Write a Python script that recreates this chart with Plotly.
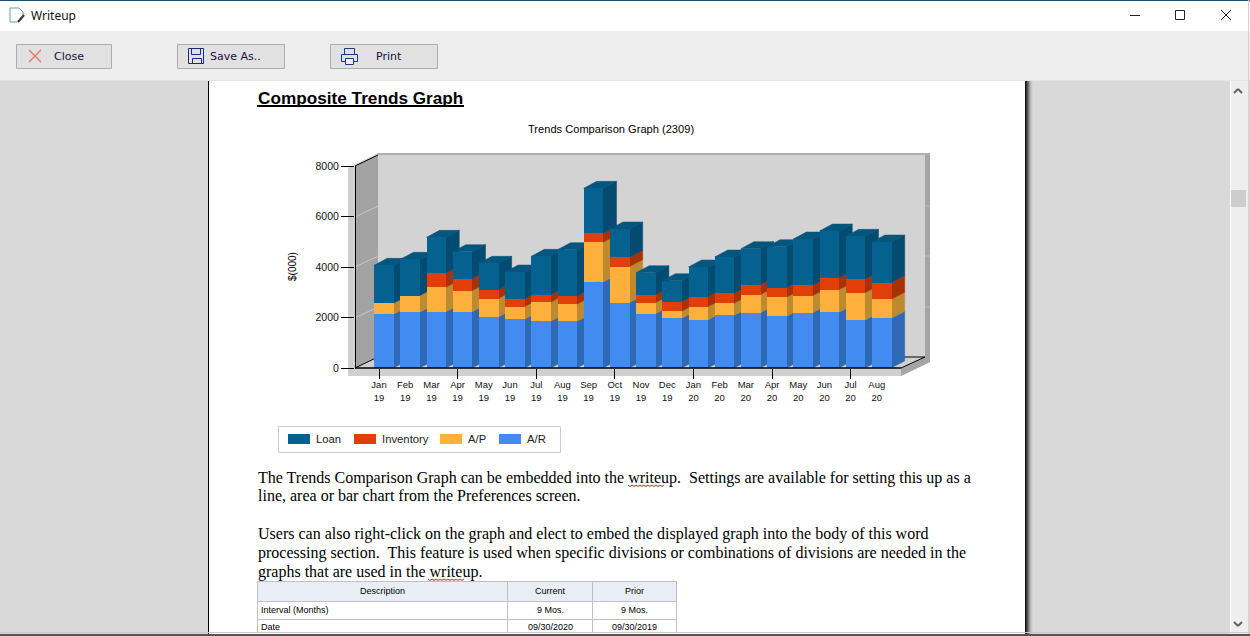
import plotly.graph_objects as go

W, H = 1250, 636

months = ['Jan', 'Feb', 'Mar', 'Apr', 'May', 'Jun', 'Jul', 'Aug', 'Sep', 'Oct', 'Nov', 'Dec',
          'Jan', 'Feb', 'Mar', 'Apr', 'May', 'Jun', 'Jul', 'Aug']
years = ['19'] * 12 + ['20'] * 8

ar = [2125, 2204, 2231, 2231, 2020, 1927, 1848, 1848, 3406, 2587,
      2152, 1967, 1901, 2086, 2191, 2046, 2191, 2204, 1901, 1967]
ap = [436, 660, 963, 831, 726, 502, 752, 673, 1570, 1426,
      435, 277, 528, 475, 713, 752, 673, 898, 1082, 752]
inventory = [0, 0, 555, 476, 343, 303, 304, 317, 357, 369,
             317, 383, 396, 396, 396, 383, 410, 462, 528, 660]
loan = [1505, 1439, 1425, 1069, 1056, 1070, 1518, 1848, 1782, 1122,
        871, 831, 1175, 1439, 1426, 1624, 1834, 1861, 1703, 1611]

series_names = ['A/R', 'A/P', 'Inventory', 'Loan']
front_colors = ['#428bf0', '#fdb13c', '#e03f07', '#056190']
side_colors = ['#2f68b5', '#bd8a30', '#a83105', '#034b70']
top_color = '#04567f'

y_ticks = [0, 2000, 4000, 6000, 8000]

body_lines = [
    (477.5, 'The Trends Comparison Graph can be embedded into the writeup.  Settings are available for setting this up as a'),
    (495.5, 'line, area or bar chart from the Preferences screen.'),
    (533.5, 'Users can also right-click on the graph and elect to embed the displayed graph into the body of this word'),
    (552.5, 'processing section.  This feature is used when specific divisions or combinations of divisions are needed in the'),
    (571.5, 'graphs that are used in the writeup.'),
]
table_rows = [
    (591, 'Description', 'Current', 'Prior'),
    (610, 'Interval (Months)', '9 Mos.', '9 Mos.'),
    (627, 'Date', '09/30/2020', '09/30/2019'),
]

# pixel scale of the chart
PX_PER_UNIT = 0.02525
PITCH = 26.2
FIRST_BAR = 384
DEPTH_X = 13 / PITCH
DEPTH_Y = 7 / PX_PER_UNIT
HALF = 0.377
x_range = [(355 - FIRST_BAR) / PITCH, (930 - FIRST_BAR) / PITCH]
y_range = [0, (368 - 153) / PX_PER_UNIT]

shapes = []
annotations = []


def px(x):
    return x / W


def py(y):
    return 1 - y / H


def rect(x0, y0, x1, y1, fill='rgba(0,0,0,0)', line=None, width=1, layer='below'):
    shapes.append(dict(type='rect', xref='paper', yref='paper', x0=px(x0), y0=py(y0), x1=px(x1), y1=py(y1),
                       fillcolor=fill, line=dict(color=line or fill, width=width if line else 0), layer=layer))


def seg(x0, y0, x1, y1, color='black', width=1, layer='above'):
    shapes.append(dict(type='line', xref='paper', yref='paper', x0=px(x0), y0=py(y0), x1=px(x1), y1=py(y1),
                       line=dict(color=color, width=width), layer=layer))


def poly(points, fill, layer='below'):
    d = 'M ' + ' L '.join(f'{px(a):.5f},{py(b):.5f}' for a, b in points) + ' Z'
    shapes.append(dict(type='path', xref='paper', yref='paper', path=d, fillcolor=fill,
                       line=dict(width=0), layer=layer))


def label(x, y, text, size=11, family='Liberation Sans', color='black', anchor='left', angle=0):
    annotations.append(dict(xref='paper', yref='paper', x=px(x), y=py(y), text=text, showarrow=False,
                            xanchor=anchor, yanchor='middle', align=anchor, textangle=angle,
                            borderpad=0, font=dict(family=family, size=size, color=color)))


def wavy(x0, x1, y):
    x = x0
    up = True
    while x < x1:
        seg(x, y + (0 if up else 1.5), x + 2, y + (1.5 if up else 0), color='#e02020', width=1)
        x += 2
        up = not up


# window chrome
rect(0, 0, W, 31, '#ffffff')
seg(0, 0.5, W, 0.5, '#1f4e6b', 1, 'below')
rect(0, 31, W, 80, '#eeeeee')
rect(0, 80, W, H, '#d9d9d9')
seg(0, 80.5, W, 80.5, '#e4e4e4', 1, 'below')
rect(209, 81, 1025, H, '#ffffff')
seg(208.5, 81, 208.5, H, 'black', 1, 'below')
for k, c in enumerate(['#111111', '#333333', '#555555', '#777777', '#999999', '#b5b5b5', '#c8c8c8', '#d3d3d3']):
    rect(1025 + k, 81, 1026 + k, H, c)
rect(1230, 81, 1248, H, '#eeeeee')
rect(1230, 81, 1231, H, '#ffffff')
rect(1231, 190, 1246, 207, '#cdcdcd')
seg(1248.5, 0, 1248.5, H, '#d0d0d0', 1, 'below')
seg(1234, 93, 1238, 89, '#606060', 2, 'below')
seg(1238, 89, 1242, 93, '#606060', 2, 'below')
seg(1234, 622, 1238, 626, '#606060', 2, 'below')
seg(1238, 626, 1242, 622, '#606060', 2, 'below')
seg(0, 632.5, W, 632.5, '#c8c8c8', 1)
rect(0, 634, W, H, '#555555', layer='above')

label(30, 16, 'Writeup', 12, 'Noto Sans', '#111111')
seg(1130, 15.5, 1140, 15.5, '#222222')
rect(1175.5, 10.5, 1184.5, 19.5, line='#222222')
seg(1221, 10, 1231, 20, '#222222')
seg(1231, 10, 1221, 20, '#222222')
# title bar icon
poly([(10, 8), (19, 8), (23, 12), (23, 22), (10, 22)], '#ffffff')
for p0, p1 in [((10, 8), (19, 8)), ((19, 8), (23, 12)), ((10, 8), (10, 22)), ((10, 22), (17, 22)), ((23, 12), (23, 15))]:
    seg(*p0, *p1, '#6a9cb8')
seg(18, 22, 24, 15, '#333333', 2)

# toolbar buttons
for x0, x1 in [(16, 112), (177, 285), (330, 438)]:
    rect(x0 + 0.5, 44.5, x1 - 0.5, 68.5, '#e1e1e1', '#adadad')
label(53, 56.5, 'Close', 11, 'DejaVu Sans', '#1a1040')
label(209, 56.5, 'Save As..', 11, 'DejaVu Sans', '#1a1040')
label(375, 56.5, 'Print', 11, 'DejaVu Sans', '#1a1040')
seg(29, 50, 41, 62, '#e8705f', 1.3)
seg(41, 50, 29, 62, '#e8705f', 1.3)
rect(188.5, 48.5, 203.5, 63.5, line='#1c2a78')
rect(191.5, 48.5, 200.5, 54.5, line='#1c2a78')
rect(192.5, 58.5, 201.5, 63.5, line='#1c2a78')
rect(344.5, 48.5, 354.5, 54.5, line='#1c3a78')
rect(341.5, 54.5, 357.5, 61.5, line='#1c3a78')
rect(345.5, 58.5, 353.5, 64.5, '#eeeeee', '#1c3a78')

# heading and chart title
label(257, 98, '<b>Composite Trends Graph</b>', 17.2)
seg(257, 106, 464, 106, 'black', 2)
label(611, 129, 'Trends Comparison Graph (2309)', 11.1, anchor='center')
label(292, 267, '$(000)', 10, anchor='center', angle=-90)

# 3d frame of the chart
poly([(348, 168), (378, 153), (930, 153), (930, 362), (901, 376), (348, 376)], '#d0d0d0')
rect(378, 155, 925, 357, '#d3d3d3')
rect(378, 153, 930, 155, '#b0b0b0')
rect(925, 155, 930, 357, '#a5a5a5')
poly([(355, 166), (378, 155), (378, 357), (355, 368)], '#a3a3a3')
poly([(901, 368), (925, 357), (930, 357), (930, 362), (901, 376)], '#a5a5a5')
for y in [217, 267, 318]:
    seg(355, y, 378, y - 11, '#c8c8c8', 1, 'below')
    seg(925, y - 11, 930, y - 11, '#bbbbbb', 1, 'below')
seg(355.5, 166, 355.5, 368, 'black', 1, 'below')
seg(355, 166, 378, 155, 'black', 1, 'below')
seg(355, 368, 378, 357, 'black', 1, 'below')
seg(378, 357, 925, 357, 'black', 1, 'below')
seg(901, 368, 925, 357, 'black', 1, 'below')
seg(355, 368, 901, 368, 'black', 1.5)

# legend
rect(278.5, 426.5, 560.5, 452.5, '#ffffff', '#cccccc')
for x, name, color in [(288, 'Loan', front_colors[3]), (354, 'Inventory', front_colors[2]),
                       (440, 'A/P', front_colors[1]), (499, 'A/R', front_colors[0])]:
    rect(x, 434, x + 22, 444, color)
    label(x + 27, 439, name, 11.3, color='#222222')

# writeup text
for y, text in body_lines:
    label(257, y, text, 16, 'Liberation Serif')
wavy(628, 664, 485)
wavy(428, 464, 579)

# table
rect(257.5, 581.5, 676.5, 601.5, '#e9edf5')
for y in [581.5, 601.5, 619.5]:
    seg(257, y, 677, y, '#c0c0c0', 1, 'below')
for x in [257.5, 507.5, 592.5, 676.5]:
    seg(x, 581, x, 633, '#c0c0c0', 1, 'below')
for k, (y, a, b, c) in enumerate(table_rows):
    if k == 0:
        label(382, y, a, 9, anchor='center')
    else:
        label(260, y, a, 9)
    label(550, y, b, 9, anchor='center')
    label(634, y, c, 9, anchor='center')

fig = go.Figure()

stacks = [ar, ap, inventory, loan]
for i in range(len(months)):
    base = 0
    for s, values in enumerate(stacks):
        top = base + values[i]
        if values[i] > 0:
            fig.add_trace(go.Scatter(
                x=[i + HALF - 0.02, i + HALF + DEPTH_X, i + HALF + DEPTH_X, i + HALF - 0.02, i + HALF - 0.02],
                y=[base, base + DEPTH_Y, top + DEPTH_Y, top, base],
                mode='lines', line=dict(width=0.5, color=side_colors[s]), fill='toself',
                fillcolor=side_colors[s], hoverinfo='skip', showlegend=False))
        base = top
    fig.add_trace(go.Scatter(
        x=[i - HALF, i - HALF + DEPTH_X, i + HALF + DEPTH_X, i + HALF, i - HALF],
        y=[base, base + DEPTH_Y, base + DEPTH_Y, base, base],
        mode='lines', line=dict(width=0.5, color=top_color), fill='toself', fillcolor=top_color,
        hoverinfo='skip', showlegend=False))

for s, values in enumerate(stacks):
    fig.add_trace(go.Bar(x=list(range(len(months))), y=values, name=series_names[s],
                         marker=dict(color=front_colors[s], line=dict(width=0)),
                         xaxis='x2', yaxis='y2', showlegend=False))

tick_pos = [i - 0.19 for i in range(len(months))]

fig.update_layout(
    width=W, height=H,
    margin=dict(l=0, r=0, t=0, b=0, pad=0, autoexpand=False),
    paper_bgcolor='white',
    plot_bgcolor='rgba(0,0,0,0)',
    barmode='stack',
    bargap=1 - 2 * HALF,
    shapes=shapes,
    annotations=annotations,
    xaxis=dict(domain=[px(355), px(930)], range=x_range, showgrid=False, zeroline=False, showline=False,
               tickmode='array', tickvals=tick_pos,
               ticktext=[f'{m}<br>{y}' for m, y in zip(months, years)],
               ticks='outside', ticklen=8, tickcolor='rgba(0,0,0,0)',
               minor=dict(tickmode='array', tickvals=tick_pos[::3], ticks='outside', ticklen=10,
                          tickcolor='black', tickwidth=1),
               tickfont=dict(family='Liberation Sans', size=9.5, color='#111111')),
    yaxis=dict(domain=[py(368), py(153)], range=y_range, showgrid=False, zeroline=False, showline=False,
               tickmode='array', tickvals=y_ticks, ticks='outside', ticklen=13, tickcolor='black',
               tickfont=dict(family='Liberation Sans', size=10.5, color='#111111')),
    xaxis2=dict(overlaying='x', anchor='y2', range=x_range, visible=False),
    yaxis2=dict(overlaying='y', anchor='x2', range=y_range, visible=False),
)

fig.write_html("out.html", config={'displayModeBar': False},
               post_script="document.body.style.margin='0';document.body.style.overflow='hidden';")
